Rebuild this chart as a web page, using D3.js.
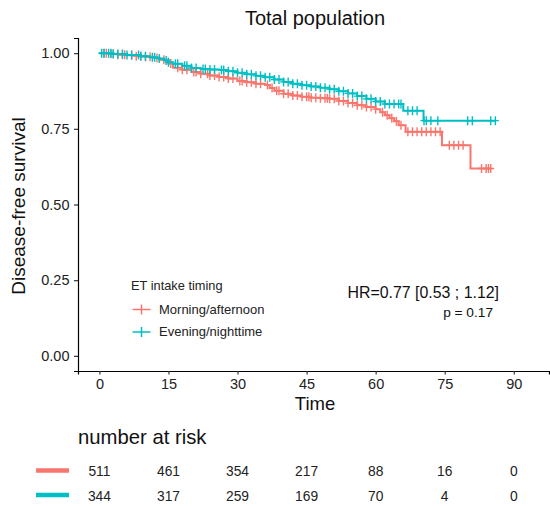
<!DOCTYPE html>
<html>
<head>
<meta charset="utf-8">
<script src="https://cdn.jsdelivr.net/npm/d3@7"></script>
<style>
  body { margin: 0; background: #fff; }
  text { font-family: "Liberation Sans", Arial, sans-serif; }
</style>
</head>
<body>
<svg id="km"></svg>
<script>
// Kaplan-Meier steps (time, survival after event)
const groups = ["Morning/afternoon", "Evening/nighttime"];
const colors = ["#F8766D", "#00BFC4"];

const redTimes = [0, 2, 4, 6, 8, 10, 12, 13, 15, 16, 18, 20, 22, 24, 26, 28, 30, 32, 34, 36, 37, 38, 40, 42, 44, 46, 48, 50, 52, 54, 56, 58, 60, 61, 62, 63, 64, 65, 66.5, 74.4, 80.6];
const redSurv = [1, .998, .995, .993, .99, .988, .984, .978, .966, .952, .945, .938, .932, .926, .921, .916, .908, .904, .899, .895, .885, .876, .866, .86, .856, .853, .851, .849, .842, .835, .828, .822, .815, .805, .795, .785, .775, .762, .74, .696, .619];
const redEnd = 85;
const redCensor = [1, 1.5, 2.5, 3, 4, 5, 5.5, 7, 8, 9, 10, 11, 12.5, 14, 15.5, 17, 18, 19, 20.5, 21, 22, 23.5, 24, 25, 26, 27, 28, 29, 30.5, 31, 32, 33, 34, 35, 36.5, 37.5, 38.5, 39, 40, 41, 42, 43, 44, 45, 45.5, 46, 47, 48, 49, 49.5, 50, 51, 52, 53, 54, 55, 56, 57, 58, 59, 60, 61.5, 62.5, 63.5, 64.5, 65.5, 67, 68, 69, 70, 71, 72, 73, 74, 76, 77, 78, 79, 83, 84, 84.5, 85];

const tealTimes = [0, 3, 6, 9, 11, 13, 14, 15, 16, 18, 20, 22, 24, 26, 28, 30, 32, 34, 36, 38, 40, 42, 44, 46, 48, 50, 52, 54, 56, 58, 60, 62, 66, 70.4];
const tealSurv = [1, .997, .994, .99, .986, .982, .976, .97, .965, .958, .951, .948, .946, .944, .94, .935, .93, .925, .92, .913, .905, .899, .894, .89, .886, .881, .874, .867, .858, .849, .84, .832, .81, .777];
const tealEnd = 86;
const tealCensor = [0.5, 1, 2, 2.5, 3, 4, 5, 6, 7, 8.5, 9, 10, 11.5, 12, 13, 14.5, 15, 16.5, 17, 18.5, 19, 20, 21, 22.5, 23, 24, 25, 26.5, 27, 28, 29, 30, 31, 32, 33, 34, 35, 36, 37, 38, 39, 40, 41, 42, 43, 44, 45, 46, 47, 48, 49, 50, 51, 52, 53, 54, 55, 56, 57, 58, 59, 60, 61, 62, 63, 64, 65, 65.5, 67, 68, 69, 70.5, 71, 72, 73.5, 80, 81, 85, 86];

const xTicks = [0, 15, 30, 45, 60, 75, 90];
const yTicks = [0, 0.25, 0.5, 0.75, 1];
const riskRed = [511, 461, 354, 217, 88, 16, 0];
const riskTeal = [344, 317, 259, 169, 70, 4, 0];

const W = 550, H = 506;
const svg = d3.select("#km").attr("width", W).attr("height", H);

const x = d3.scaleLinear().domain([-4.65, 97.65]).range([78, 549]);
const y = d3.scaleLinear().domain([-0.05, 1.05]).range([371, 38]);

// axes
const xAxis = svg.append("g")
    .attr("transform", "translate(0,371)")
    .call(d3.axisBottom(x).tickValues(xTicks).tickSize(3.5).tickPadding(4.5));
const yAxis = svg.append("g")
    .attr("transform", "translate(78,0)")
    .call(d3.axisLeft(y).tickValues(yTicks).tickFormat(d3.format(".2f")).tickSize(4).tickPadding(4.5));
[xAxis, yAxis].forEach(function (g) {
    g.select(".domain").attr("stroke", "#000").attr("stroke-width", 1.2);
    g.selectAll(".tick line").attr("stroke", "#333").attr("stroke-width", 1.2);
    g.selectAll(".tick text").attr("fill", "#222").attr("font-size", 14.5);
});

// survival curves
const series = [
    { times: redTimes, surv: redSurv, end: redEnd, censor: redCensor, color: colors[0] },
    { times: tealTimes, surv: tealSurv, end: tealEnd, censor: tealCensor, color: colors[1] }
];

function survAt(s, t) {
    let v = s.surv[0];
    for (let i = 0; i < s.times.length; i++) {
        if (s.times[i] <= t) v = s.surv[i];
    }
    return v;
}

const line = d3.line()
    .x(function (d) { return x(d[0]); })
    .y(function (d) { return y(d[1]); })
    .curve(d3.curveStepAfter);

series.forEach(function (s) {
    const pts = s.times.map(function (t, i) { return [t, s.surv[i]]; });
    pts.push([s.end, s.surv[s.surv.length - 1]]);
    svg.append("path")
        .datum(pts)
        .attr("fill", "none")
        .attr("stroke", s.color)
        .attr("stroke-width", 2)
        .attr("d", line);
    svg.append("g").selectAll("path")
        .data(s.censor)
        .enter().append("path")
        .attr("transform", function (t) { return `translate(${x(t)},${y(survAt(s, t))})`; })
        .attr("d", "M-3.5,0H3.5M0,-4.5V4.5")
        .attr("stroke", s.color)
        .attr("stroke-width", 1.4)
        .attr("fill", "none");
});

// title and axis labels
svg.append("text")
    .attr("x", 315).attr("y", 25)
    .attr("text-anchor", "middle")
    .attr("font-size", 20).attr("fill", "#111")
    .text("Total population");
svg.append("text")
    .attr("x", 315).attr("y", 410)
    .attr("text-anchor", "middle")
    .attr("font-size", 18.5).attr("fill", "#111")
    .text("Time");
svg.append("text")
    .attr("transform", "translate(24.5,206) rotate(-90)")
    .attr("text-anchor", "middle")
    .attr("font-size", 19).attr("fill", "#111")
    .text("Disease-free survival");

// legend
svg.append("text")
    .attr("x", 131).attr("y", 290)
    .attr("font-size", 12.8).attr("fill", "#222")
    .text("ET intake timing");
groups.forEach(function (g, i) {
    const ly = 309.5 + i * 22.5;
    svg.append("path")
        .attr("d", `M132.5,${ly}H150.5M141.5,${ly - 5}V${ly + 5}`)
        .attr("stroke", colors[i]).attr("stroke-width", 1.5);
    svg.append("text")
        .attr("x", 159).attr("y", ly + 4.2)
        .attr("font-size", 13).attr("fill", "#222")
        .text(g);
});

// HR annotation
svg.append("text")
    .attr("x", 499).attr("y", 297.5)
    .attr("text-anchor", "end")
    .attr("font-size", 15.9).attr("fill", "#111")
    .text("HR=0.77 [0.53 ; 1.12]");
svg.append("text")
    .attr("x", 493).attr("y", 317)
    .attr("text-anchor", "end")
    .attr("font-size", 13.7).attr("fill", "#111")
    .text("p = 0.17");

// number at risk table
svg.append("text")
    .attr("x", 78).attr("y", 444)
    .attr("font-size", 20.3).attr("fill", "#111")
    .text("number at risk");
[riskRed, riskTeal].forEach(function (row, i) {
    const ry = 470.5 + i * 24.5;
    svg.append("line")
        .attr("x1", 36).attr("x2", 69)
        .attr("y1", ry).attr("y2", ry)
        .attr("stroke", colors[i]).attr("stroke-width", 4.5);
    svg.append("g").selectAll("text")
        .data(row)
        .enter().append("text")
        .attr("x", function (d, j) { return x(xTicks[j]); })
        .attr("y", ry + 5.5)
        .attr("text-anchor", "middle")
        .attr("font-size", 13.8).attr("fill", "#222")
        .text(function (d) { return d; });
});
</script>
</body>
</html>
